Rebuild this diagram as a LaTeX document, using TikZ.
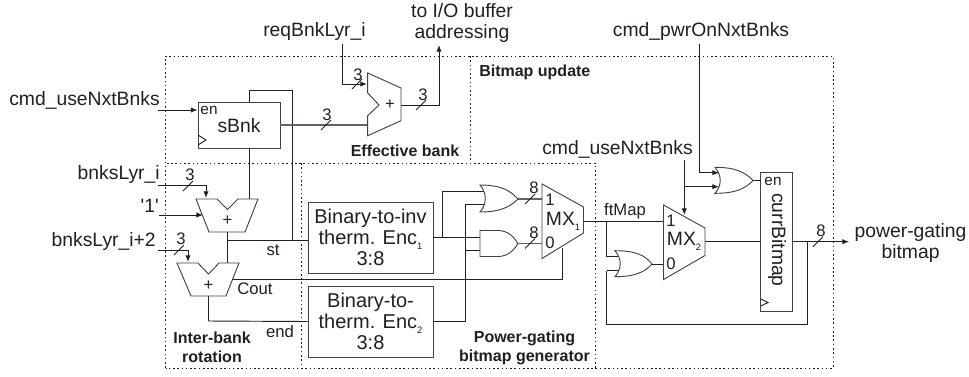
\documentclass[tikz,border=0pt]{standalone}
\usepackage{fontspec}
\setmainfont{Liberation Sans}
\newfontfamily\plainq{Liberation Sans}
\usetikzlibrary{arrows.meta}
\definecolor{ink}{HTML}{231F20}
\tikzset{
  wire/.style={draw=ink,line width=0.7pt},
  fat/.style={draw=ink!70,line width=1pt},
  arrowed/.style={wire,-{Latex[length=5pt,width=4pt]}},
  zone/.style={draw=ink,line width=0.75pt,dash pattern=on 1.2pt off 2pt},
  gate/.style={draw=ink!85,line width=0.7pt,fill=white},
  boxed/.style={draw=ink!85,line width=0.65pt,fill=white,inner sep=0pt,align=center},
  big/.style={font=\fontsize{14.5}{15.75}\selectfont,text=ink,inner sep=0pt,align=center},
  enc/.style={font=\fontsize{15}{15.75}\selectfont,text=ink,align=center},
  small/.style={font=\fontsize{12.5}{14}\selectfont,text=ink,inner sep=0pt},
  tiny/.style={font=\fontsize{11.5}{14}\selectfont,text=ink,inner sep=0pt},
  region/.style={font=\bfseries\fontsize{12}{14}\selectfont,text=ink,inner sep=0pt,align=center},
}
\newcommand{\lowidx}[1]{\raisebox{-0.5ex}{\fontsize{7}{8}\selectfont #1}}
\newcommand{\ortick}[2]{\draw[wire,line width=0.6pt] (#1+5,#2-5) -- (#1-5,#2+5);}
\begin{document}
\begin{tikzpicture}[x=0.75pt,y=-0.75pt]
\useasboundingbox (0,0) rectangle (969,376);
% regions
\draw[zone] (165.5,368) -- (165.5,56) -- (833,56) -- (833,368) -- cycle;
\draw[zone] (595,368) -- (595,163) -- (165.5,163);
\draw[zone] (301,163) -- (301,368);
\draw[zone] (470,56) -- (470,160);
% connection points
\coordinate (stJ) at (227.5,240);
\coordinate (fbTop) at (249,90);
\coordinate (fbR) at (292.5,90);
\coordinate (fbL) at (292.5,240);
% blocks
\node[boxed,minimum width=82pt*0.75,minimum height=46pt*0.75] (sbnk) at (239,125) {};
\node[boxed,minimum width=125pt*0.75,minimum height=71pt*0.75,enc] (enc1) at (370.5,237.5) {Binary-to-inv\\therm. Enc\lowidx{1}\\3:8};
\node[boxed,minimum width=125pt*0.75,minimum height=71pt*0.75,enc] (enc2) at (370.5,321.5) {Binary-to-\\therm. Enc\lowidx{2}\\3:8};
\node[boxed,minimum width=31.6pt*0.75,minimum height=139pt*0.75] (curr) at (776.5,241.8) {};
% wires under shapes
\draw[wire] (sbnk.south -| fbTop) -- (fbTop |- {0,199});
\draw[wire] (sbnk.north -| fbTop) -- (fbTop) -- (fbR) -- (fbL);
\draw[wire] (227.5,232) -- (227.5,263);
\draw[wire] (stJ) -- (stJ -| enc1.west);
\draw[wire] (208.5,296) -- (208.5,321) -- (enc2.west);
\draw[wire] (233,279.5) -- (562.5,279.5) -- (562.5,248);
\draw[fat] (sbnk.east |- {0,125}) -- (367.7,125);
\draw[wire] (enc1.east) -- (480,237.5);
\draw[wire] (442,237.5) -- (442,191.5) -- (485,191.5);
\draw[wire] (enc2.east) -- (465.5,321.5) -- (465.5,204) -- (485,204);
\draw[wire] (465.5,250) -- (480,250);
\draw[fat] (518,199) -- (542,199);
\draw[fat] (518,243.5) -- (542,243.5);
\draw[wire] (583.5,221) -- (663.5,221);
\draw[wire] (606.5,221) -- (606.5,256.7) -- (619,256.7);
\draw[wire] (606.5,270.7) -- (606.5,324.7) -- (807.3,324.7) -- (807.3,241.7);
\draw[wire] (606.5,270.7) -- (619,270.7);
\draw[wire] (652,264) -- (663.5,264);
\draw[wire] (705,241.7) -- (760.7,241.7);
\draw[wire] (753,180.5) -- (760.7,180.5);
% gates: adders
\draw[gate] (196,199) -- (217,199) -- (227.5,209.5) -- (238,199) -- (258,199) -- (245,232) -- (209,232) -- cycle;
\draw[gate] (177,263) -- (198,263) -- (208.5,274) -- (219,263) -- (239,263) -- (226,296) -- (191,296) -- cycle;
\draw[gate] (367.7,73) -- (401,88) -- (401,120.7) -- (367.7,135.7) -- (367.7,115.7) -- (379,105) -- (367.7,93) -- cycle;
% gates: or and and
\draw[gate] (480,185) .. controls (500,185) and (510,190) .. (518,199) .. controls (510,207) and (500,212) .. (480,212) .. controls (487,204) and (487,193) .. (480,185) -- cycle;
\draw[gate] (480,230.5) -- (498,230.5) .. controls (508,230.5) and (514,237) .. (518,243.5) .. controls (514,250) and (508,256.5) .. (498,256.5) -- (480,256.5) -- cycle;
\draw[gate] (615,250.7) .. controls (635,250.7) and (645,255) .. (652,264) .. controls (645,272) and (635,276.7) .. (615,276.7) .. controls (622,268) and (622,259) .. (615,250.7) -- cycle;
\draw[gate] (715,167.3) .. controls (735,167.3) and (745,172) .. (753,180.5) .. controls (745,189) and (735,193.3) .. (715,193.3) .. controls (722,185) and (722,176) .. (715,167.3) -- cycle;
% gates: muxes
\draw[gate] (542,184) -- (583.5,207) -- (583.5,233) -- (542,258.5) -- cycle;
\draw[gate] (663.5,205) -- (705,228) -- (705,255.5) -- (663.5,279.5) -- cycle;
% arrows
\coordinate (cmdA) at (158,110);
\draw[arrowed] (cmdA) -- (sbnk.west |- cmdA);
\draw[arrowed] (158,185.5) -- (206,185.5) -- (206,198);
\draw[arrowed] (159,215) -- (203,215);
\draw[arrowed] (158,250) -- (188,250) -- (188,262);
\draw[arrowed] (342,44) -- (342,84) -- (367,84);
\draw[arrowed] (401,105) -- (439,105) -- (439,45);
\draw[arrowed] (699.3,44) -- (699.3,172.7) -- (719,172.7);
\draw[arrowed] (684.3,160) -- (684.3,215);
\draw[arrowed] (684.3,186.7) -- (719,186.7);
\draw[arrowed] (792.3,241.7) -- (849,241.7);
% clock marks
\draw[wire] (198,135) -- (206,140) -- (198,145);
\draw[wire] (760.7,299) -- (768,302.5) -- (760.7,306);
% bus ticks
\ortick{188}{186}
\ortick{179}{250}
\ortick{326}{125}
\ortick{357}{84}
\ortick{421}{105}
\ortick{530}{199}
\ortick{530}{243.5}
\ortick{818}{241.7}
% bus widths
\node[small] (w1) at (190,175) {3};
\node[small] (w2) at (181,239) {3};
\node[small] (w3) at (327,115) {3};
\node[small] (w4) at (358,75) {3};
\node[small] (w5) at (423,95) {3};
\node[small] (w6) at (534,188) {8};
\node[small] (w7) at (534,233) {8};
\node[small] (w8) at (821,231) {8};
% big labels
\node[big,anchor=east] (l1) at (160,100) {cmd\_useNxtBnks};
\node[big,anchor=east] (l2) at (160,174) {bnksLyr\_i};
\node[big,anchor=east] (l3) at (159,206) {\plainq '1'};
\node[big,anchor=east] (l4) at (156,241) {bnksLyr\_i+2};
\node[big] (l5) at (314.5,31) {reqBnkLyr\_i};
\node[big] (l6) at (462,22.5) {to I/O buffer\\addressing};
\node[big] (l7) at (701,31) {cmd\_pwrOnNxtBnks};
\node[big] (l8) at (617.5,149) {cmd\_useNxtBnks};
\node[big] (l9) at (910.5,242.5) {power-gating\\bitmap};
\node[big] (sn) at (239,126) {sBnk};
\node[big,rotate=-90] (cn) at (777,240) {currBitmap};
\node[big] (m1) at (563,221) {MX\lowidx{1}};
\node[big] (m2) at (684,241) {MX\lowidx{2}};
% small labels
\node[tiny] (e1) at (209,110) {en};
\node[tiny] (e2) at (773,181) {en};
\node[small] (p1) at (227.5,221) {+};
\node[small] (p2) at (208.5,286) {+};
\node[small] (p3) at (390,105) {+};
\node[small] (st) at (273,250) {st};
\node[small] (co) at (255,289) {Cout};
\node[small] (en) at (280,332) {end};
\node[small] (ft) at (625,211) {ftMap};
\node[small] (a1) at (550,200) {1};
\node[small] (a0) at (550,243) {0};
\node[small] (b1) at (671,221) {1};
\node[small] (b0) at (671,264) {0};
% region names
\node[region] (r1) at (405,151) {Effective bank};
\node[region,anchor=west] (r2) at (479,72) {Bitmap update};
\node[region] (r3) at (212,347.5) {Inter-bank\\rotation};
\node[region] (r4) at (524.5,348) {Power-gating\\bitmap generator};
\end{tikzpicture}
\end{document}
